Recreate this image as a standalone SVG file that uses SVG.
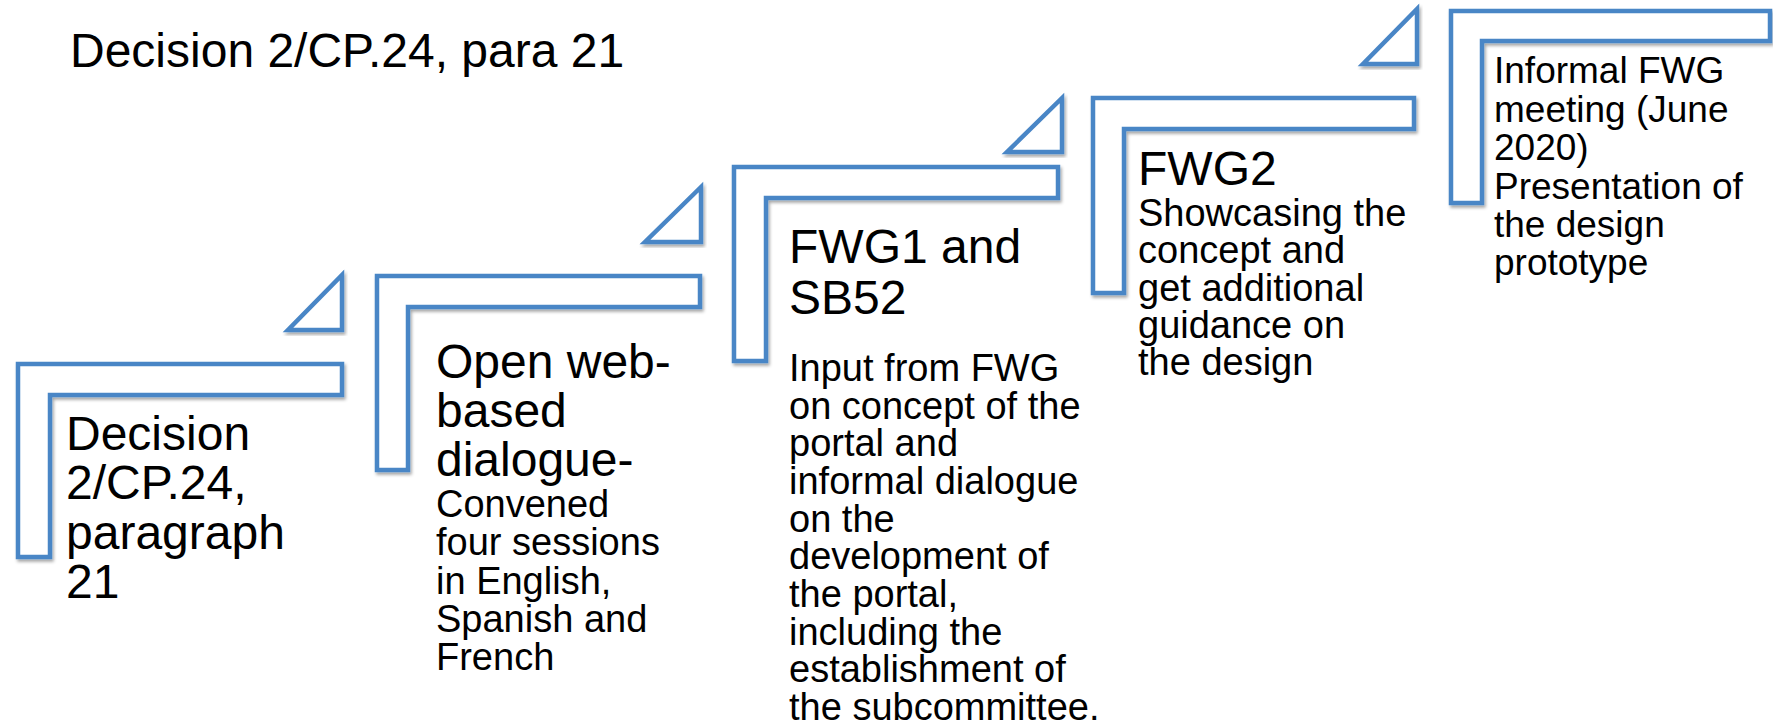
<svg xmlns="http://www.w3.org/2000/svg" width="1773" height="724" viewBox="0 0 1773 724">
<defs>
<filter id="sh" x="-10%" y="-10%" width="120%" height="120%">
<feDropShadow dx="1.5" dy="2.5" stdDeviation="1.5" flood-color="#000" flood-opacity="0.35"/>
</filter>
</defs>
<style>
.s{fill:#fff;stroke:#4A86C6;stroke-width:4.5;stroke-linejoin:miter;filter:url(#sh)}
.t{font-family:"Liberation Sans",Arial,sans-serif;fill:#000}
.L{font-size:48px}
.M{font-size:38px}
.N{font-size:37px}
</style>
<rect width="1773" height="724" fill="#fff"/>
<text class="t" x="70" y="67" font-size="48">Decision 2/CP.24, para 21</text>
<g id="connectors">
<polygon class="s" points="342,275 342,330 288,330"/>
<polygon class="s" points="701,187 701,242 645,242"/>
<polygon class="s" points="1062,98 1062,152 1007,152"/>
<polygon class="s" points="1417,9 1417,64 1363,64"/>
</g>
<g id="node1">
<path class="s" d="M18,364 H342 V395 H50 V557 H18 Z"/>
<text class="t L"><tspan x="66" y="450">Decision</tspan><tspan x="66" y="499">2/CP.24,</tspan><tspan x="66" y="549">paragraph</tspan><tspan x="66" y="598">21</tspan></text>
</g>
<g id="node2">
<path class="s" d="M377,276 H700 V307 H408 V470 H377 Z"/>
<text class="t L"><tspan x="436" y="378">Open web-</tspan><tspan x="436" y="427">based</tspan><tspan x="436" y="476">dialogue-</tspan></text>
<text class="t M"><tspan x="436" y="517">Convened</tspan><tspan x="436" y="555">four sessions</tspan><tspan x="436" y="594">in English,</tspan><tspan x="436" y="632">Spanish and</tspan><tspan x="436" y="670">French</tspan></text>
</g>
<g id="node3">
<path class="s" d="M734,167 H1058 V198 H766 V361 H734 Z"/>
<text class="t L"><tspan x="789" y="263">FWG1 and</tspan><tspan x="789" y="314">SB52</tspan></text>
<text class="t M"><tspan x="789" y="381">Input from FWG</tspan><tspan x="789" y="419">on concept of the</tspan><tspan x="789" y="456">portal and</tspan><tspan x="789" y="494">informal dialogue</tspan><tspan x="789" y="532">on the</tspan><tspan x="789" y="569">development of</tspan><tspan x="789" y="607">the portal,</tspan><tspan x="789" y="645">including the</tspan><tspan x="789" y="682">establishment of</tspan><tspan x="789" y="720">the subcommittee.</tspan></text>
</g>
<g id="node4">
<path class="s" d="M1093,98 H1414 V129 H1124 V293 H1093 Z"/>
<text class="t L" x="1138" y="185">FWG2</text>
<text class="t M"><tspan x="1138" y="226">Showcasing the</tspan><tspan x="1138" y="263">concept and</tspan><tspan x="1138" y="301">get additional</tspan><tspan x="1138" y="338">guidance on</tspan><tspan x="1138" y="375">the design</tspan></text>
</g>
<g id="node5">
<path class="s" d="M1451,11 H1770 V41 H1482 V203 H1451 Z"/>
<text class="t N"><tspan x="1494" y="83">Informal FWG</tspan><tspan x="1494" y="122">meeting (June</tspan><tspan x="1494" y="160">2020)</tspan><tspan x="1494" y="199">Presentation of</tspan><tspan x="1494" y="237">the design</tspan><tspan x="1494" y="275">prototype</tspan></text>
</g>
</svg>
